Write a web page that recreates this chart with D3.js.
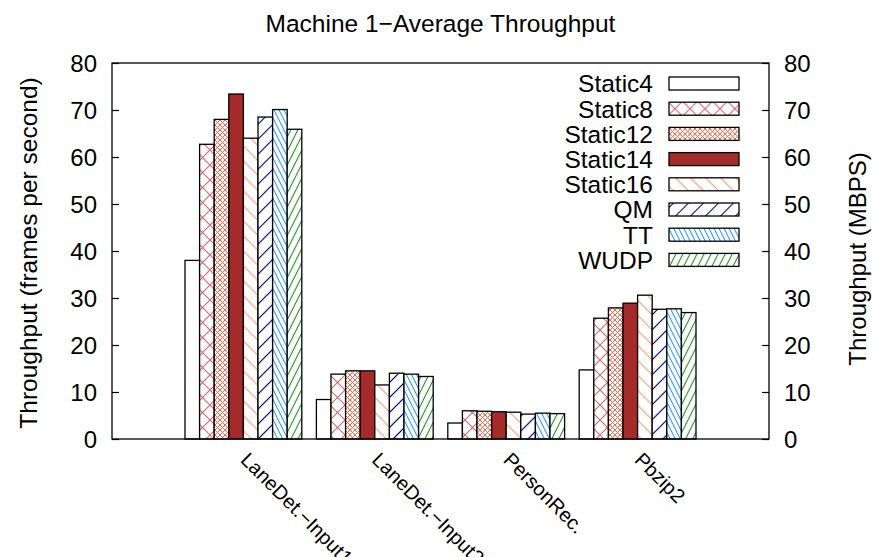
<!DOCTYPE html>
<html>
<head>
<meta charset="utf-8">
<script src="https://cdn.jsdelivr.net/npm/d3@7"></script>
<style>
  html, body { margin: 0; padding: 0; background: #fff; }
  text { font-family: "Liberation Sans", Arial, Helvetica, sans-serif; fill: #000; }
</style>
</head>
<body>
<svg id="chart" width="872" height="557"></svg>
<script>
// Benchmarks on the x axis
const categories = ["LaneDet.\u2212Input1", "LaneDet.\u2212Input2", "PersonRec.", "Pbzip2"];

// Average throughput per configuration, one value per benchmark
const static4  = [38.0,  8.4, 3.4, 14.7];
const static8  = [62.7, 13.8, 6.0, 25.7];
const static12 = [68.0, 14.5, 5.9, 27.9];
const static14 = [73.4, 14.5, 5.8, 28.9];
const static16 = [64.0, 11.5, 5.7, 30.6];
const qm       = [68.5, 14.0, 5.3, 27.6];
const tt       = [70.1, 13.8, 5.5, 27.7];
const wudp     = [65.9, 13.3, 5.4, 26.9];

const seriesNames = ["Static4", "Static8", "Static12", "Static14", "Static16", "QM", "TT", "WUDP"];
const seriesValues = [static4, static8, static12, static14, static16, qm, tt, wudp];

const yTicks = [0, 10, 20, 30, 40, 50, 60, 70, 80];

const titleText = "Machine 1\u2212Average Throughput";
const yLabelLeft = "Throughput (frames per second)";
const yLabelRight = "Throughput (MBPS)";

// ---- layout ----
const plot = { left: 112, right: 769, top: 63, bottom: 439 };
const svg = d3.select("#chart");
const defs = svg.append("defs");

// Fill patterns for each series
function hatch(id, color, spacing, angle, width) {
  const p = defs.append("pattern")
    .attr("id", id)
    .attr("patternUnits", "userSpaceOnUse")
    .attr("width", spacing).attr("height", spacing)
    .attr("patternTransform", `rotate(${angle})`);
  p.append("rect").attr("width", spacing).attr("height", spacing).attr("fill", "#fff");
  p.append("line").attr("x1", spacing / 2).attr("y1", 0).attr("x2", spacing / 2).attr("y2", spacing)
    .attr("stroke", color).attr("stroke-width", width);
}
function cross(id, color, size, width) {
  const p = defs.append("pattern")
    .attr("id", id)
    .attr("patternUnits", "userSpaceOnUse")
    .attr("width", size).attr("height", size);
  p.append("rect").attr("width", size).attr("height", size).attr("fill", "#fff");
  p.append("path").attr("d", `M0,0L${size},${size}M${size},0L0,${size}`)
    .attr("stroke", color).attr("stroke-width", width).attr("fill", "none");
}
cross("p-static8", "#d06870", 15, 1.1);
cross("p-static12", "#ff6347", 5, 1.0);
hatch("p-static16", "#ffa07a", 10.6, -45, 1.2);
hatch("p-qm", "#000080", 10.6, 45, 1.1);
hatch("p-tt", "#1e90ff", 4.5, -26.6, 1.0);
hatch("p-wudp", "#228b22", 6.3, 26.6, 1.1);

const fills = ["#ffffff", "url(#p-static8)", "url(#p-static12)", "#a52a2a",
               "url(#p-static16)", "url(#p-qm)", "url(#p-tt)", "url(#p-wudp)"];

// ---- scales ----
const x = d3.scaleLinear().domain([-1, categories.length]).range([plot.left, plot.right]);
const y = d3.scaleLinear().domain([0, 80]).range([plot.bottom, plot.top]);
const nSeries = seriesNames.length;
const slot = 1 / (nSeries + 1);

// ---- bars ----
const barData = [];
seriesValues.forEach((vals, s) => {
  vals.forEach((v, c) => barData.push({ s, c, v }));
});
svg.append("g").selectAll("rect")
  .data(barData)
  .join("rect")
  .attr("x", d => x(d.c - nSeries * slot / 2 + d.s * slot))
  .attr("width", d => x(slot) - x(0))
  .attr("y", d => y(d.v))
  .attr("height", d => y(0) - y(d.v))
  .attr("fill", d => fills[d.s])
  .attr("stroke", "#000")
  .attr("stroke-width", 1.3);

// ---- axes ----
const fmt = d3.format("d");
const leftAxis = svg.append("g")
  .attr("transform", `translate(${plot.left},0)`)
  .call(d3.axisLeft(y).tickValues(yTicks).tickFormat(fmt).tickSizeInner(-7).tickSizeOuter(0).tickPadding(15));
const rightAxis = svg.append("g")
  .attr("transform", `translate(${plot.right},0)`)
  .call(d3.axisRight(y).tickValues(yTicks).tickFormat(fmt).tickSizeInner(-7).tickSizeOuter(0).tickPadding(15));
[leftAxis, rightAxis].forEach(g => {
  g.select(".domain").remove();
  g.selectAll(".tick line").attr("stroke", "#000").attr("stroke-width", 1.2);
  g.selectAll(".tick text").attr("font-size", 24).attr("font-family", null).attr("dy", "0.36em");
});

// plot border
svg.append("rect")
  .attr("x", plot.left).attr("y", plot.top)
  .attr("width", plot.right - plot.left).attr("height", plot.bottom - plot.top)
  .attr("fill", "none").attr("stroke", "#000").attr("stroke-width", 1.3);

// ---- category labels (rotated) ----
svg.append("g").selectAll("text")
  .data(categories)
  .join("text")
  .attr("transform", (d, i) => `translate(${x(i) - 4},${plot.bottom + 22}) rotate(45)`)
  .attr("text-anchor", "start")
  .attr("font-size", 20)
  .text(d => d);

// ---- titles ----
svg.append("text")
  .attr("x", (plot.left + plot.right) / 2).attr("y", 32)
  .attr("text-anchor", "middle").attr("font-size", 24.5)
  .text(titleText);
svg.append("text")
  .attr("transform", `translate(37,${(plot.top + plot.bottom) / 2 + 2}) rotate(-90)`)
  .attr("text-anchor", "middle").attr("font-size", 24.5)
  .text(yLabelLeft);
svg.append("text")
  .attr("transform", `translate(866,${(plot.top + plot.bottom) / 2 + 8}) rotate(-90)`)
  .attr("text-anchor", "middle").attr("font-size", 24)
  .text(yLabelRight);

// ---- legend ----
const legend = svg.append("g").selectAll("g")
  .data(seriesNames)
  .join("g")
  .attr("transform", (d, i) => `translate(0,${83.5 + i * 25.2})`);
legend.append("text")
  .attr("x", 653).attr("y", 0).attr("dy", "0.36em")
  .attr("text-anchor", "end").attr("font-size", 24.5)
  .text(d => d);
legend.append("rect")
  .attr("x", 669).attr("y", -6.5).attr("width", 70).attr("height", 13)
  .attr("fill", (d, i) => fills[i])
  .attr("stroke", "#000").attr("stroke-width", 1.3);
</script>
</body>
</html>
